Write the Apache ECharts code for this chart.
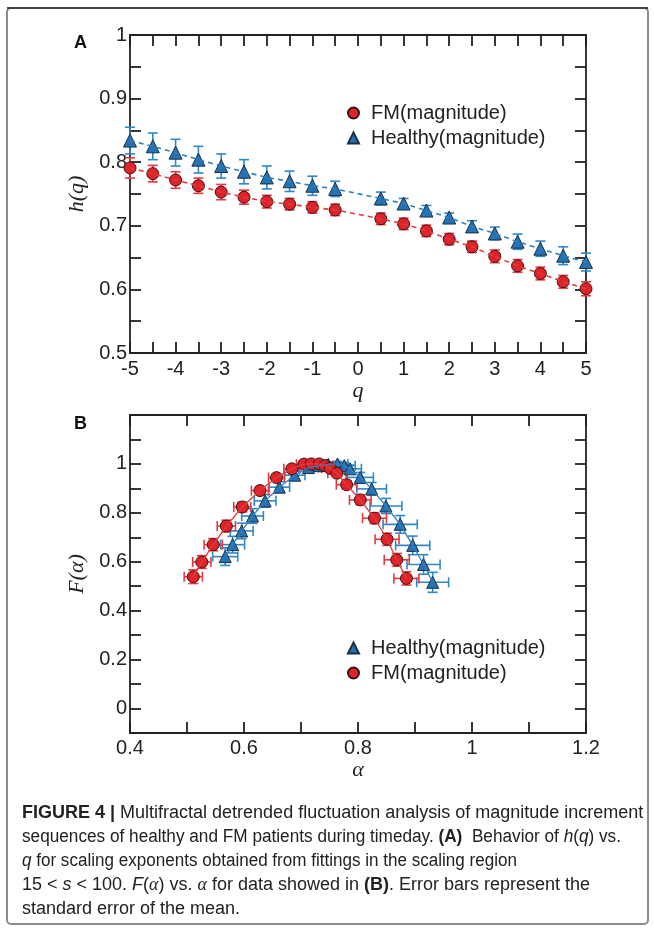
<!DOCTYPE html>
<html>
<head>
<meta charset="utf-8">
<script src="https://cdn.jsdelivr.net/npm/echarts@6.0.0/dist/echarts.min.js"></script>
<style>
html,body{margin:0;padding:0;background:#fff;}
#chart{width:654px;height:930px;}
</style>
</head>
<body>
<div id="chart"></div>
<script>
// ---------- Panel A data: h(q) vs q ----------
const qVals = [-5,-4.5,-4,-3.5,-3,-2.5,-2,-1.5,-1,-0.5,0.5,1,1.5,2,2.5,3,3.5,4,4.5,5];
const hFM = [0.791,0.782,0.772,0.763,0.753,0.745,0.738,0.734,0.729,0.725,0.711,0.703,0.692,0.679,0.667,0.652,0.637,0.625,0.612,0.601];
const hFMErr = [0.016,0.013,0.013,0.012,0.012,0.011,0.010,0.009,0.009,0.009,0.009,0.009,0.009,0.009,0.009,0.010,0.010,0.010,0.010,0.011];
const hH = [0.834,0.825,0.815,0.804,0.794,0.785,0.776,0.770,0.763,0.758,0.743,0.735,0.724,0.713,0.699,0.688,0.675,0.664,0.653,0.643];
const hHErr = [0.021,0.021,0.021,0.021,0.019,0.019,0.018,0.016,0.015,0.012,0.010,0.008,0.008,0.007,0.009,0.010,0.012,0.012,0.014,0.014];

// ---------- Panel B data: F(alpha) vs alpha ----------
const aFM = [0.511,0.526,0.546,0.569,0.597,0.628,0.657,0.684,0.705,0.718,0.732,0.742,0.751,0.763,0.780,0.804,0.829,0.851,0.868,0.885];
const fFM = [0.539,0.599,0.670,0.746,0.824,0.891,0.944,0.980,0.999,1.000,1.000,0.993,0.982,0.962,0.915,0.853,0.778,0.692,0.608,0.532];
const aFMErr = [0.016,0.016,0.016,0.016,0.015,0.015,0.014,0.014,0.013,0.013,0.013,0.014,0.015,0.016,0.018,0.019,0.021,0.021,0.022,0.022];
const fFMErr = [0.028,0.026,0.025,0.024,0.020,0.016,0.013,0.010,0.008,0.006,0.006,0.008,0.010,0.013,0.017,0.020,0.022,0.025,0.026,0.027];
const aH = [0.567,0.580,0.596,0.615,0.637,0.662,0.689,0.713,0.732,0.748,0.764,0.776,0.786,0.804,0.824,0.849,0.874,0.896,0.915,0.931];
const fH = [0.621,0.670,0.726,0.787,0.849,0.905,0.954,0.985,0.993,0.998,1.000,0.993,0.980,0.945,0.898,0.828,0.753,0.667,0.589,0.516];
const aHErr = [0.022,0.021,0.020,0.019,0.019,0.018,0.018,0.017,0.017,0.018,0.018,0.019,0.020,0.023,0.026,0.028,0.030,0.030,0.029,0.028];
const fHErr = [0.036,0.034,0.032,0.030,0.026,0.022,0.017,0.013,0.011,0.010,0.010,0.012,0.015,0.020,0.026,0.031,0.036,0.038,0.040,0.041];

// ---------- tick labels ----------
const yLabelsB = ['0','0.2','0.4','0.6','0.8','1'];

const nameFM = 'FM(magnitude)';
const nameH = 'Healthy(magnitude)';

const RED = '#e0232b', RED_ERR = '#e8393f', RED_LINE = '#e33b3b';
const BLUE = '#2673b4', BLUE_ERR = '#2f88c8', BLUE_LINE = '#2f7fc0';
const AX = '#222';
const SANS = '"Liberation Sans", Arial, Helvetica, sans-serif';
const SERIF = '"Liberation Serif", "Times New Roman", serif';

function vErr(color, cap) {
  return function (params, api) {
    const x = api.value(0), y = api.value(1), e = api.value(2);
    const p1 = api.coord([x, y - e]), p2 = api.coord([x, y + e]);
    const st = {stroke: color, lineWidth: 1.6};
    return {type: 'group', children: [
      {type: 'line', shape: {x1: p1[0], y1: p1[1], x2: p2[0], y2: p2[1]}, style: st},
      {type: 'line', shape: {x1: p1[0] - cap, y1: p1[1], x2: p1[0] + cap, y2: p1[1]}, style: st},
      {type: 'line', shape: {x1: p2[0] - cap, y1: p2[1], x2: p2[0] + cap, y2: p2[1]}, style: st}
    ]};
  };
}
function xyErr(color, cap) {
  return function (params, api) {
    const x = api.value(0), y = api.value(1), ex = api.value(2), ey = api.value(3);
    const l = api.coord([x - ex, y]), r = api.coord([x + ex, y]);
    const b = api.coord([x, y - ey]), t = api.coord([x, y + ey]);
    const st = {stroke: color, lineWidth: 1.6};
    return {type: 'group', children: [
      {type: 'line', shape: {x1: l[0], y1: l[1], x2: r[0], y2: r[1]}, style: st},
      {type: 'line', shape: {x1: l[0], y1: l[1] - cap, x2: l[0], y2: l[1] + cap}, style: st},
      {type: 'line', shape: {x1: r[0], y1: r[1] - cap, x2: r[0], y2: r[1] + cap}, style: st},
      {type: 'line', shape: {x1: b[0], y1: b[1], x2: t[0], y2: t[1]}, style: st},
      {type: 'line', shape: {x1: b[0] - cap, y1: b[1], x2: b[0] + cap, y2: b[1]}, style: st},
      {type: 'line', shape: {x1: t[0] - cap, y1: t[1], x2: t[0] + cap, y2: t[1]}, style: st}
    ]};
  };
}

function axis(opts) {
  const base = {
    type: 'value',
    gridIndex: opts.grid,
    position: opts.position,
    min: opts.min, max: opts.max, interval: opts.interval,
    axisLine: {show: true, onZero: false, lineStyle: {color: AX, width: 1.8}},
    axisTick: {show: true, inside: true, length: 11, lineStyle: {color: AX, width: 1.8}},
    minorTick: {show: !!opts.minor, splitNumber: opts.minor || 5, length: 11, lineStyle: {color: AX, width: 1.8}},
    splitLine: {show: false},
    minorSplitLine: {show: false},
    axisLabel: {show: !!opts.labels, color: AX, fontSize: 20, fontFamily: SANS, margin: opts.margin || 4,
      formatter: opts.formatter, showMinLabel: true, showMaxLabel: true},
  };
  if (opts.name) {
    base.name = opts.name;
    base.nameLocation = 'middle';
    base.nameGap = opts.nameGap;
    base.nameTextStyle = {fontFamily: SERIF, fontStyle: 'italic', fontSize: 22, color: AX};
  }
  return base;
}

const chart = echarts.init(document.getElementById('chart'));

const pairs = (xs, ys, e1, e2) => xs.map((x, i) => e2 ? [x, ys[i], e1[i], e2[i]] : (e1 ? [x, ys[i], e1[i]] : [x, ys[i]]));

// ---------- caption ----------
const CAP_FS = 18;
const CAP_X = 22;
const capFonts = {
  n: CAP_FS + 'px "Liberation Sans"',
  b: 'bold ' + CAP_FS + 'px "Liberation Sans"',
  i: 'italic ' + CAP_FS + 'px "Liberation Sans"',
  g: 'italic ' + CAP_FS + 'px "Liberation Serif"'
};
const rich = {
  n: {fontFamily: SANS, fontSize: CAP_FS, color: '#222'},
  b: {fontFamily: SANS, fontSize: CAP_FS, fontWeight: 'bold', color: '#222'},
  i: {fontFamily: SANS, fontSize: CAP_FS, fontStyle: 'italic', color: '#222'},
  g: {fontFamily: SERIF, fontSize: CAP_FS, fontStyle: 'italic', color: '#222'}
};
const captionLines = [
  '{b|FIGURE 4 |}{n| Multifractal detrended fluctuation analysis of magnitude increment}',
  '{n|sequences of healthy and FM patients during timeday. }{b|(A)}{n|  Behavior of }{i|h}{n|(}{i|q}{n|) vs.}',
  '{i|q}{n| for scaling exponents obtained from fittings in the scaling region}',
  '{n|15 < }{i|s}{n| < 100. }{i|F}{n|(}{g|α}{n|) vs. }{g|α}{n| for data showed in }{b|(B)}{n|. Error bars represent the}',
  '{n|standard error of the mean.}'
];
// right ends of each caption line in the reference (layout only)
const captionEnds = [644, 621, 517, 607, 262];
const mctx = document.createElement('canvas').getContext('2d');
function lineWidth(markup) {
  let w = 0; const re = /\{([a-z]+)\|([^}]*)\}/g; let m;
  while ((m = re.exec(markup))) { mctx.font = capFonts[m[1]]; w += mctx.measureText(m[2]).width; }
  return w;
}

const graphics = [
  {type: 'rect', shape: {x: 7, y: 8, width: 641, height: 916, r: 4}, style: {fill: 'none', stroke: '#8c8c8c', lineWidth: 2}, silent: true},
  {type: 'line', shape: {x1: 7, y1: 8, x2: 648, y2: 8}, style: {stroke: '#444', lineWidth: 2}, silent: true},
  {type: 'text', x: 74, y: 43, style: {text: 'A', font: 'bold 18px ' + SANS, fill: '#111', verticalAlign: 'middle'}},
  {type: 'text', x: 74, y: 424, style: {text: 'B', font: 'bold 18px ' + SANS, fill: '#111', verticalAlign: 'middle'}}
];
captionLines.forEach((t, k) => {
  const s = Math.min(1.0, (captionEnds[k] - CAP_X) / lineWidth(t));
  graphics.push({type: 'text', x: CAP_X, y: 813 + 24 * k, scaleX: s,
    style: {text: t, rich: rich, verticalAlign: 'middle', fontFamily: SANS, fontSize: CAP_FS, fill: '#222'}});
});

const legendBase = {orient: 'vertical', left: 342, itemWidth: 11, itemHeight: 11, itemGap: 5, symbolKeepAspect: true,
  selectedMode: false, textStyle: {fontSize: 20, fontFamily: SANS, color: AX, lineHeight: 20, padding: [0, 0, 0, 7]}};

const option = {
  backgroundColor: '#fff',
  animation: false,
  grid: [
    {left: 130, top: 35, width: 456, height: 318, outerBoundsMode: 'none', containLabel: false},
    {left: 130, top: 415, width: 456, height: 318, outerBoundsMode: 'none', containLabel: false}
  ],
  xAxis: [
    axis({grid: 0, position: 'bottom', min: -5, max: 5, interval: 1, minor: 2, labels: true, margin: 6, name: 'q', nameGap: 19}),
    axis({grid: 0, position: 'top', min: -5, max: 5, interval: 1, minor: 2}),
    axis({grid: 1, position: 'bottom', min: 0.4, max: 1.2, interval: 0.2, minor: 2, labels: true, margin: 5, name: 'α', nameGap: 22}),
    axis({grid: 1, position: 'top', min: 0.4, max: 1.2, interval: 0.2, minor: 2})
  ],
  yAxis: [
    axis({grid: 0, position: 'left', min: 0.5, max: 1, interval: 0.1, minor: 2, labels: true, margin: 3, name: 'h(q)', nameGap: 34}),
    axis({grid: 0, position: 'right', min: 0.5, max: 1, interval: 0.1, minor: 2}),
    axis({grid: 1, position: 'left', min: -0.1, max: 1.2, interval: 0.1, labels: true, margin: 3, name: 'F(α)', nameGap: 35,
      formatter: v => { const s = String(Math.round(v * 10) / 10); return yLabelsB.indexOf(s) >= 0 ? s : ''; }}),
    axis({grid: 1, position: 'right', min: -0.1, max: 1.2, interval: 0.1})
  ],
  legend: [
    Object.assign({}, legendBase, {data: [nameFM, nameH], top: 98}),
    Object.assign({}, legendBase, {data: [nameH, nameFM], top: 633})
  ],
  graphic: graphics,
  series: [
    // Panel A
    {type: 'custom', xAxisIndex: 0, yAxisIndex: 0, renderItem: vErr(BLUE_ERR, 5), data: pairs(qVals, hH, hHErr), encode: {x: 0, y: 1}, silent: true},
    {type: 'custom', xAxisIndex: 0, yAxisIndex: 0, renderItem: vErr(RED_ERR, 5), data: pairs(qVals, hFM, hFMErr), encode: {x: 0, y: 1}, silent: true},
    {type: 'line', xAxisIndex: 0, yAxisIndex: 0, data: pairs(qVals, hH), showSymbol: false, symbol: 'none',
      lineStyle: {color: BLUE_LINE, width: 1.6, type: [5, 4]}, silent: true},
    {type: 'line', xAxisIndex: 0, yAxisIndex: 0, data: pairs(qVals, hFM), showSymbol: false, symbol: 'none',
      lineStyle: {color: RED_LINE, width: 1.6, type: [5, 4]}, silent: true},
    {name: nameH, type: 'scatter', xAxisIndex: 0, yAxisIndex: 0, data: pairs(qVals, hH), symbol: 'triangle', symbolSize: 13,
      itemStyle: {color: BLUE, borderColor: '#1b2f45', borderWidth: 1, opacity: 1}},
    {name: nameFM, type: 'scatter', xAxisIndex: 0, yAxisIndex: 0, data: pairs(qVals, hFM), symbol: 'circle', symbolSize: 12,
      itemStyle: {color: RED, borderColor: '#3a1414', borderWidth: 1, opacity: 1}},
    // Panel B
    {type: 'custom', xAxisIndex: 2, yAxisIndex: 2, renderItem: xyErr(BLUE_ERR, 5), data: pairs(aH, fH, aHErr, fHErr), encode: {x: 0, y: 1}, silent: true},
    {type: 'line', xAxisIndex: 2, yAxisIndex: 2, data: pairs(aH, fH), showSymbol: false, symbol: 'none',
      lineStyle: {color: BLUE_LINE, width: 1.3}, silent: true},
    {name: nameH, type: 'scatter', xAxisIndex: 2, yAxisIndex: 2, data: pairs(aH, fH), symbol: 'triangle', symbolSize: 12,
      itemStyle: {color: BLUE, borderColor: '#1b2f45', borderWidth: 1, opacity: 1}},
    {type: 'custom', xAxisIndex: 2, yAxisIndex: 2, renderItem: xyErr(RED_ERR, 5), data: pairs(aFM, fFM, aFMErr, fFMErr), encode: {x: 0, y: 1}, silent: true},
    {type: 'line', xAxisIndex: 2, yAxisIndex: 2, data: pairs(aFM, fFM), showSymbol: false, symbol: 'none',
      lineStyle: {color: RED_LINE, width: 1.3}, silent: true},
    {name: nameFM, type: 'scatter', xAxisIndex: 2, yAxisIndex: 2, data: pairs(aFM, fFM), symbol: 'circle', symbolSize: 12,
      itemStyle: {color: RED, borderColor: '#3a1414', borderWidth: 1, opacity: 1}}
  ]
};
chart.setOption(option);
</script>
</body>
</html>
